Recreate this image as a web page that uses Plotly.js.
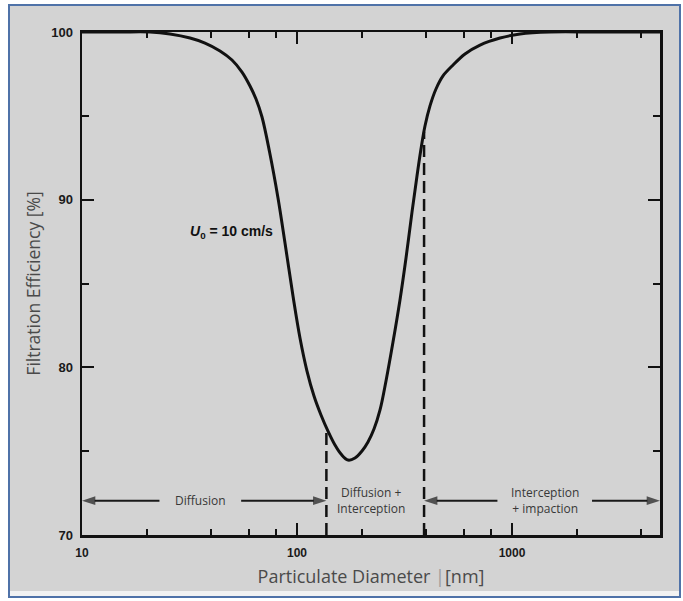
<!DOCTYPE html>
<html>
<head>
<meta charset="utf-8">
<script src="https://cdn.plot.ly/plotly-3.0.1.min.js"></script>
<style>html,body{margin:0;padding:0;background:#fff;}#chart{width:683px;height:601px;}</style>
</head>
<body>
<div id="chart"></div>
<script>
// ---- data ----
const diameterNm = [10, 15, 20.72, 25.67, 31.80, 37.33, 43.84, 49.84, 55.48, 60.45, 64.47, 68.74, 74.55, 81.59, 87.94, 95.81,
  103.26, 111.30, 119.98, 129.3, 139.37, 150.2, 160.2, 172.7, 186.1, 200.6, 213.9, 228.1, 243.3, 259.4, 279.6,
  301.3, 321.4, 342.7, 361.5, 377.3, 393.8, 415.5, 443.1, 477.6, 526.1, 604.5, 710.1, 879.5, 1089.5, 1502, 2500, 4880];
const efficiencyPct = [100, 100, 100, 99.88, 99.64, 99.34, 98.87, 98.33, 97.61, 96.78, 96.00, 94.93, 92.84, 90.10, 87.42, 84.25,
  81.75, 79.78, 78.29, 77.16, 76.20, 75.37, 74.83, 74.47, 74.59, 75.01, 75.55, 76.32, 77.46, 79.19, 81.51,
  84.02, 86.52, 89.26, 91.41, 93.02, 94.39, 95.59, 96.60, 97.38, 97.97, 98.69, 99.22, 99.64, 99.88, 100, 100, 100];

const boundaryNm  = [137, 390];     // dashed mechanism boundaries
const boundaryTop = [76.4, 94.05];  // where each dashed line meets the curve

const regionLabels  = ["Diffusion", "Diffusion +<br>Interception", "Interception<br>+ impaction"];
const regionEdges   = [10, 137, 390, 4880];
const regionLabelAt = [35.5, 221, 1420];
const regionArrows  = [true, false, true];
const regionLevel   = 72.05;

const xTickVals  = [10, 100, 1000];
const xTickText  = ["10", "100", "1000"];
const xMinorVals = [20, 40, 60, 80, 200, 400, 600, 800, 2000, 4000];
const yTickVals  = [70, 80, 90, 100];
const yMinorVals = [75, 85, 95];

const velocityLabel = "<b><i>U</i><sub>0</sub> = 10 cm/s</b>";
const velocityAt = [49.6, 88.07];

// ---- layout helpers (pixel geometry of the scanned frame) ----
const L = 82, R = 660, T = 32, B = 535;
const px = v => (v - L) / (R - L);
const py = v => (B - v) / (B - T);
const lg = Math.log10;

// dashed boundary trace
const bx = [], by = [];
boundaryNm.forEach((d, i) => { bx.push(d, d, null); by.push(70, boundaryTop[i], null); });

const traces = [
  { x: diameterNm, y: efficiencyPct, type: "scatter", mode: "lines",
    line: { color: "#111", width: 3, shape: "spline", smoothing: 1.0 },
    hoverinfo: "skip", showlegend: false },
  { x: bx, y: by, type: "scatter", mode: "lines",
    line: { color: "#111", width: 2.5, dash: "12px,6px" },
    hoverinfo: "skip", showlegend: false }
];

// arrows: line from label gap to region edge, arrowhead marker at the edge
const gapHalf = [0.19, 0, 0.22];
regionLabels.forEach((t, i) => {
  if (!regionArrows[i]) return;
  const c = lg(regionLabelAt[i]);
  const ends = [[regionEdges[i], Math.pow(10, c - gapHalf[i])], [regionEdges[i + 1], Math.pow(10, c + gapHalf[i])]];
  ends.forEach(([tip, tail]) => {
    traces.push({ x: [tail, tip], y: [regionLevel, regionLevel], type: "scatter", mode: "lines+markers",
      line: { color: "#1a1a1a", width: 2 },
      marker: { symbol: "arrow", angleref: "previous", size: [0, 14], color: "#1a1a1a", line: { width: 0 } },
      hoverinfo: "skip", showlegend: false, cliponaxis: false });
  });
});

const annotations = [];
regionLabels.forEach((t, i) => {
  annotations.push({ x: lg(regionLabelAt[i]), y: regionLevel, xref: "x", yref: "y",
    text: t, showarrow: false,
    font: { family: "Open Sans", size: 12, color: "#383838" } });
});
annotations.push({ x: lg(velocityAt[0]), y: velocityAt[1], xref: "x", yref: "y",
  text: velocityLabel, showarrow: false,
  font: { family: "Liberation Sans", size: 14, color: "#111" } });

const axisCommon = {
  ticks: "inside", ticklen: 12, tickwidth: 2, tickcolor: "#111",
  showline: true, linewidth: 2.5, linecolor: "#111", mirror: "allticks",
  showgrid: false, zeroline: false
};

const layout = {
  width: 683, height: 601,
  margin: { l: L, r: 683 - R, t: T, b: 601 - B },
  paper_bgcolor: "#ffffff", plot_bgcolor: "rgba(0,0,0,0)",
  showlegend: false,
  xaxis: Object.assign({}, axisCommon, {
    type: "log", range: [1, lg(4880)],
    tickmode: "array", tickvals: xTickVals, ticktext: xTickText,
    ticklabelstandoff: 5,
    tickfont: { family: "Liberation Sans", size: 12, color: "#1a1a1a", weight: "bold" },
    minor: { tickmode: "array", tickvals: xMinorVals, ticks: "inside", ticklen: 6, tickwidth: 2, tickcolor: "#111", showgrid: false },
    title: { text: "Particulate Diameter <span style='color:#9a9a9a'>|</span>[nm]", standoff: 12,
      font: { family: "Open Sans", size: 18, color: "#4a4a4a" } }
  }),
  yaxis: Object.assign({}, axisCommon, {
    range: [70, 100],
    tickmode: "array", tickvals: yTickVals,
    ticklabelstandoff: 4,
    tickfont: { family: "Liberation Sans", size: 13, color: "#1a1a1a", weight: "bold" },
    minor: { tickmode: "array", tickvals: yMinorVals, ticks: "inside", ticklen: 7, tickwidth: 2, tickcolor: "#111", showgrid: false },
    title: { text: "Filtration Efficiency [%]", standoff: 6,
      font: { family: "Open Sans", size: 17.5, color: "#4a4a4a" } }
  }),
  shapes: [
    { type: "rect", xref: "paper", yref: "paper", layer: "below",
      x0: px(9), x1: px(680), y0: py(597), y1: py(5),
      fillcolor: "#d3d3d3", line: { color: "#4f72a8", width: 2 } },
    { type: "rect", xref: "paper", yref: "paper", layer: "below",
      x0: px(10), x1: px(679), y0: py(596), y1: py(591),
      fillcolor: "#f2f2f2", line: { width: 0 } }
  ],
  annotations: annotations
};

Plotly.newPlot("chart", traces, layout, { staticPlot: true, displayModeBar: false });
</script>
</body>
</html>
